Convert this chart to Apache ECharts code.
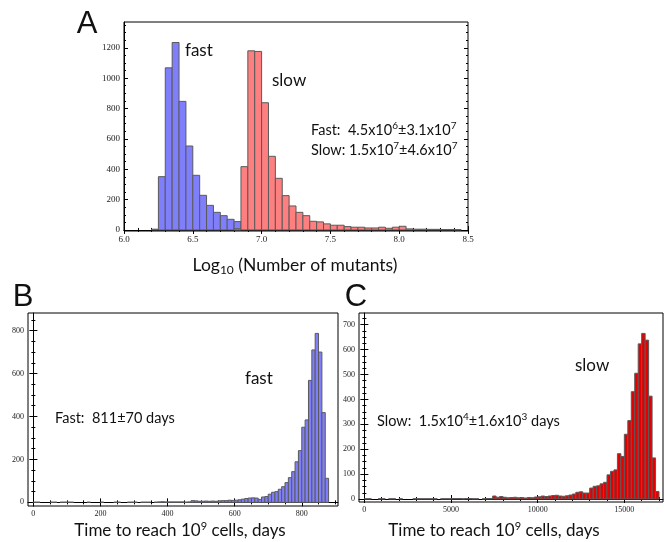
<!DOCTYPE html>
<html><head><meta charset="utf-8">
<script src="https://cdn.jsdelivr.net/npm/echarts@6/dist/echarts.min.js"></script>
<style>html,body{margin:0;padding:0;background:#fff}#c{width:664px;height:542px}</style>
</head><body><div id="c"></div>
<script>
// ---------- DATA ----------
// Panel A: log10(number of mutants), bin width 0.05
const aFastStart = 6.20;
const aFastCounts = [5, 351, 1068, 1235, 847, 553, 360, 228, 162, 116, 94, 70, 55];
const aSlowStart = 6.80;
const aSlowCounts = [8, 417, 1180, 1176, 838, 485, 340, 226, 158, 116, 94, 57, 53, 40, 31, 31, 22, 18, 18, 13, 13, 18, 11, 18, 24, 7, 5, 5, 4, 4, 3, 3, 2];
const aBinWidth = 0.05;
const aXTicks = [6.0, 6.5, 7.0, 7.5, 8.0, 8.5];
const aYTicks = [0, 200, 400, 600, 800, 1000, 1200];

// Panel B: time to reach 1e9 cells (fast), bin width 10 days, bins from 0
const bStart = 0, bBinWidth = 10;
const bCounts = [1,1,0,0,0,1,1,0,1,1, 1,1,0,0,0,0,1,0,0,0, 1,0,0,0,1,1,0,0,1,1, 1,0,1,1,1,0,1,2,3,2, 2,2,2,2,2,1,2,8,7,5, 5,6,5,6,5,7,8,8,10,9, 10,12,15,18,20,21,20,14,25,27, 38,47,50,61,73,92,115,143,189,241, 350,384,568,710,787,700,418,112];
const bXTicks = [0, 200, 400, 600, 800];
const bYTicks = [0, 200, 400, 600, 800];

// Panel C: time to reach 1e9 cells (slow), bin width 200 days, bins from 0
const cStart = 0, cBinWidth = 200;
const cCounts = [1,1,0,0,1,1,0,1,1,0, 1,0,0,0,1,1,1,1,1,1, 1,0,1,1,1,2,2,2,1,2, 2,1,1,0,1,2,2,12,7,10, 7,5,6,7,5,6,4,6,5,8, 9,12,10,12,14,15,12,11,13,16, 20,27,29,24,24,44,51,53,61,67, 97,111,117,182,171,260,315,431,505,623, 665,638,413,165,30];
const cXTicks = [0, 5000, 10000, 15000];
const cYTicks = [0, 100, 200, 300, 400, 500, 600, 700];

// ---------- helpers ----------
function range(a, b, s) { const r = []; for (let v = a; v <= b + 1e-9; v += s) r.push(Math.round(v * 1000) / 1000); return r; }

const grids = [], xAxes = [], yAxes = [], series = [];
const tickFont = 'Liberation Serif';
const plain = v => String(v);

function panel(g, xr, yr, xMaj, xMin, yMaj, yMin, fs, xfmt) {
  const gi = grids.length;
  grids.push(Object.assign({ show: true, borderColor: '#000', borderWidth: 1, backgroundColor: 'transparent' }, g));
  const base = { type: 'value', gridIndex: gi, splitLine: { show: false } };
  const xi = xAxes.length;
  xAxes.push(Object.assign({}, base, { min: xr[0], max: xr[1], position: 'bottom',
    axisLine: { show: true, lineStyle: { color: '#000', width: 1 } },
    axisTick: { show: true, inside: true, length: 4, customValues: xMaj, lineStyle: { color: '#000' } },
    axisLabel: { show: true, customValues: xMaj, fontFamily: tickFont, fontSize: fs, color: '#222', margin: 4, formatter: xfmt || plain } }));
  xAxes.push(Object.assign({}, base, { min: xr[0], max: xr[1], position: 'bottom',
    axisLine: { show: false }, axisLabel: { show: false },
    axisTick: { show: true, inside: true, length: 2, customValues: xMin, lineStyle: { color: '#000' } } }));
  xAxes.push(Object.assign({}, base, { min: xr[0], max: xr[1], position: 'top',
    axisLine: { show: false }, axisLabel: { show: false },
    axisTick: { show: true, inside: true, length: 4, customValues: xMaj, lineStyle: { color: '#000' } } }));
  xAxes.push(Object.assign({}, base, { min: xr[0], max: xr[1], position: 'top',
    axisLine: { show: false }, axisLabel: { show: false },
    axisTick: { show: true, inside: true, length: 2, customValues: xMin, lineStyle: { color: '#000' } } }));
  const yi = yAxes.length;
  yAxes.push(Object.assign({}, base, { min: yr[0], max: yr[1], position: 'left',
    axisLine: { show: true, lineStyle: { color: '#000', width: 1 } },
    axisTick: { show: true, inside: true, length: 4, customValues: yMaj, lineStyle: { color: '#000' } },
    axisLabel: { show: true, customValues: yMaj, fontFamily: tickFont, fontSize: fs, color: '#222', margin: 4, formatter: plain } }));
  yAxes.push(Object.assign({}, base, { min: yr[0], max: yr[1], position: 'left',
    axisLine: { show: false }, axisLabel: { show: false },
    axisTick: { show: true, inside: true, length: 2, customValues: yMin, lineStyle: { color: '#000' } } }));
  yAxes.push(Object.assign({}, base, { min: yr[0], max: yr[1], position: 'right',
    axisLine: { show: false }, axisLabel: { show: false },
    axisTick: { show: true, inside: true, length: 4, customValues: yMaj, lineStyle: { color: '#000' } } }));
  yAxes.push(Object.assign({}, base, { min: yr[0], max: yr[1], position: 'right',
    axisLine: { show: false }, axisLabel: { show: false },
    axisTick: { show: true, inside: true, length: 2, customValues: yMin, lineStyle: { color: '#000' } } }));
  return { xi, yi };
}

function hist(ax, start, width, counts, color) {
  const data = [];
  counts.forEach((c, i) => { if (c > 0) data.push([start + i * width, start + (i + 1) * width, c]); });
  series.push({
    type: 'custom', xAxisIndex: ax.xi, yAxisIndex: ax.yi, clip: true,
    encode: { x: [0, 1], y: 2 },
    data,
    renderItem: (params, api) => {
      const p0 = api.coord([api.value(0), api.value(2)]);
      const p1 = api.coord([api.value(1), 0]);
      return { type: 'rect', shape: { x: p0[0], y: p0[1], width: p1[0] - p0[0], height: p1[1] - p0[1] },
        style: { fill: color, stroke: '#5a5a5a', lineWidth: 1 } };
    }
  });
}

// Panel A
const axA = panel({ left: 124, top: 22, width: 344, height: 209 }, [6.0, 8.5], [-7, 1370],
  aXTicks, range(6.0, 8.5, 0.1), aYTicks, range(0, 1350, 50), 9, v => v.toFixed(1));
hist(axA, aFastStart, aBinWidth, aFastCounts, '#7f7ffb');
hist(axA, aSlowStart, aBinWidth, aSlowCounts, '#fd7f7f');

// Panel B
const axB = panel({ left: 28, top: 313, width: 310, height: 193 }, [-16, 908], [-17, 882],
  bXTicks, range(0, 900, 50), bYTicks, range(0, 850, 50), 8);
hist(axB, bStart, bBinWidth, bCounts, '#7f7ffb');

// Panel C
const axC = panel({ left: 359, top: 313, width: 304, height: 189 }, [-310, 17230], [-12, 747],
  cXTicks, range(0, 17000, 1000), cYTicks, range(0, 725, 25), 8);
hist(axC, cStart, cBinWidth, cCounts, '#e40000');

// ---------- texts ----------
const sans = 'Lato';
function txt(x, y, s, size, family, align, lh) {
  const sub = Math.round(size * 0.66);
  return { type: 'text', x, y, z: 100, style: {
    text: s, fontSize: size, fontFamily: family || sans, fill: '#111', align: align || 'left', verticalAlign: 'middle',
    lineHeight: lh || Math.round(size * 1.25),
    rich: {
      sup: { fontSize: sub, fontFamily: family || sans, fill: '#111', verticalAlign: 'top', lineHeight: sub, padding: [0, 0, 0, 0] },
      sub: { fontSize: sub, fontFamily: family || sans, fill: '#111', verticalAlign: 'bottom', lineHeight: sub }
    } } };
}
const graphics = [
  txt(87, 24, 'A', 31, 'Liberation Sans', 'center'),
  txt(23, 297, 'B', 31, 'Liberation Sans', 'center'),
  txt(356, 297, 'C', 31, 'Liberation Sans', 'center'),
  txt(185, 51, 'fast', 17),
  txt(272, 81, 'slow', 17),
  txt(311, 130, 'Fast:  4.5x10{sup|6}\u00b13.1x10{sup|7}', 14.5),
  txt(311, 150, 'Slow: 1.5x10{sup|7}\u00b14.6x10{sup|7}', 14.5),
  txt(295, 265, 'Log{sub|10} (Number of mutants)', 17.5, sans, 'center'),
  txt(245, 379, 'fast', 17),
  txt(55, 418, 'Fast:  811\u00b170 days', 14.5),
  txt(180, 531, 'Time to reach 10{sup|9} cells, days', 17, sans, 'center'),
  txt(575, 366, 'slow', 17),
  txt(377, 421, 'Slow:  1.5x10{sup|4}\u00b11.6x10{sup|3} days', 14.5),
  txt(494, 531, 'Time to reach 10{sup|9} cells, days', 17, sans, 'center')
];

const chart = echarts.init(document.getElementById('c'), null, { renderer: 'canvas' });
chart.setOption({
  animation: false,
  backgroundColor: '#fff',
  grid: grids, xAxis: xAxes, yAxis: yAxes, series,
  graphic: graphics
});
</script></body></html>
